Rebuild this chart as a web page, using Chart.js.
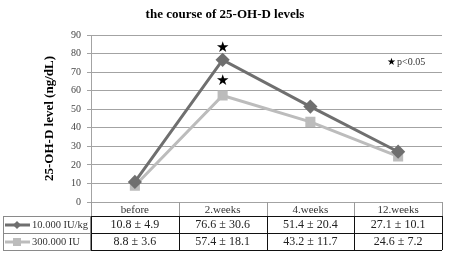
<!DOCTYPE html>
<html>
<head>
<meta charset="utf-8">
<script src="https://cdn.jsdelivr.net/npm/chart.js@4"></script>
<style>
  body { margin: 0; background: #fff; }
</style>
</head>
<body>
<canvas id="c" width="450" height="254"></canvas>
<script>
// data
const categories = ['before', '2.weeks', '4.weeks', '12.weeks'];
const seriesNames = ['10.000 IU/kg', '300.000 IU'];
const meanHigh = [10.8, 76.6, 51.4, 27.1];
const sdHigh = [4.9, 30.6, 20.4, 10.1];
const meanLow = [8.8, 57.4, 43.2, 24.6];
const sdLow = [3.6, 18.1, 11.7, 7.2];
const yTicks = [0, 10, 20, 30, 40, 50, 60, 70, 80, 90];
// significance stars at 2.weeks (value positions)
const starPoints = [{ idx: 1, y: 83 }, { idx: 1, y: 65 }];

const darkCol = '#6f6f6f';
const lightCol = '#bcbcbc';
const serif = '"Liberation Serif", "DejaVu Serif", serif';

const extras = {
  id: 'extras',
  afterDraw(chart) {
    const ctx = chart.ctx;
    const area = chart.chartArea;
    const x = chart.scales.x;
    const y = chart.scales.y;
    const cellW = (area.right - area.left) / categories.length;
    ctx.save();

    // title
    ctx.fillStyle = '#000';
    ctx.font = 'bold 13px ' + serif;
    ctx.textAlign = 'center';
    ctx.textBaseline = 'middle';
    ctx.fillText('the course of 25-OH-D levels', 225, 15);

    // stars
    ctx.font = '15px "DejaVu Sans", sans-serif';
    starPoints.forEach(p => {
      ctx.fillText('★', x.getPixelForValue(p.idx), y.getPixelForValue(p.y));
    });
    // p note
    ctx.textAlign = 'left';
    ctx.font = '10px "DejaVu Sans", sans-serif';
    ctx.fillText('★', 387, 62);
    ctx.font = '10px ' + serif;
    ctx.fillStyle = '#333';
    ctx.fillText('p<0.05', 397, 62);

    // table
    const top = area.bottom;
    const hdrB = top + 14;
    const r1B = hdrB + 17;
    const r2B = r1B + 17;
    ctx.lineWidth = 1;

    // header row
    ctx.strokeStyle = '#9a9a9a';
    for (let i = 0; i <= categories.length; i++) {
      const xx = Math.round(area.left + i * cellW) + 0.5;
      ctx.beginPath(); ctx.moveTo(xx, top); ctx.lineTo(xx, hdrB); ctx.stroke();
    }
    ctx.fillStyle = '#333';
    ctx.font = '11px ' + serif;
    ctx.textAlign = 'center';
    categories.forEach((c, i) => ctx.fillText(c, x.getPixelForValue(i), top + 8));

    // data rows
    ctx.strokeStyle = '#111';
    [hdrB, r1B, r2B].forEach(yy => {
      ctx.beginPath(); ctx.moveTo(area.left, Math.round(yy) + 0.5); ctx.lineTo(area.right, Math.round(yy) + 0.5); ctx.stroke();
    });
    for (let i = 0; i <= categories.length; i++) {
      const xx = Math.round(area.left + i * cellW) + 0.5;
      ctx.beginPath(); ctx.moveTo(xx, hdrB); ctx.lineTo(xx, r2B); ctx.stroke();
    }
    ctx.font = '12px ' + serif;
    ctx.fillStyle = '#222';
    const rows = [[meanHigh, sdHigh], [meanLow, sdLow]];
    rows.forEach((r, ri) => {
      const cy = (ri === 0 ? hdrB : r1B) + 9;
      r[0].forEach((m, i) => ctx.fillText(m + ' ± ' + r[1][i], x.getPixelForValue(i), cy));
    });

    // legend column
    ctx.strokeStyle = '#8a8a8a';
    ctx.strokeRect(3.5, Math.round(hdrB) + 0.5, area.left - 4, 17);
    ctx.strokeRect(3.5, Math.round(r1B) + 0.5, area.left - 4, 17);
    const cols = [darkCol, lightCol];
    cols.forEach((col, ri) => {
      const cy = (ri === 0 ? hdrB : r1B) + 9;
      ctx.strokeStyle = col;
      ctx.fillStyle = col;
      ctx.lineWidth = 3;
      ctx.beginPath(); ctx.moveTo(5, cy); ctx.lineTo(30, cy); ctx.stroke();
      if (ri === 0) {
        ctx.beginPath();
        ctx.moveTo(17, cy - 4); ctx.lineTo(21, cy); ctx.lineTo(17, cy + 4); ctx.lineTo(13, cy);
        ctx.closePath(); ctx.fill();
      } else {
        ctx.fillRect(13, cy - 4, 8, 8);
      }
      ctx.fillStyle = '#333';
      ctx.font = '10.5px ' + serif;
      ctx.textAlign = 'left';
      ctx.fillText(seriesNames[ri], 32, cy);
    });
    ctx.restore();
  }
};

new Chart(document.getElementById('c'), {
  type: 'line',
  data: {
    labels: categories,
    datasets: [
      {
        label: seriesNames[0], data: meanHigh,
        borderColor: darkCol, backgroundColor: darkCol, borderWidth: 3,
        pointStyle: 'rectRot', pointRadius: 5, tension: 0
      },
      {
        label: seriesNames[1], data: meanLow,
        borderColor: lightCol, backgroundColor: lightCol, borderWidth: 3,
        pointStyle: 'rect', pointRadius: 5, tension: 0
      }
    ]
  },
  options: {
    responsive: false,
    animation: false,
    layout: { padding: { top: 35, right: 5, bottom: 52, left: 0 } },
    plugins: { legend: { display: false }, title: { display: false }, tooltip: { enabled: false } },
    scales: {
      x: { display: false, offset: true },
      y: {
        min: 0, max: 90,
        afterBuildTicks: s => { s.ticks = yTicks.map(v => ({ value: v })); },
        afterFit: s => { s.width = 91; },
        grid: { color: '#a3a3a3', tickLength: 4 },
        border: { color: '#a3a3a3' },
        ticks: { font: { family: serif, size: 10 }, color: '#444', padding: 6 },
        title: { display: true, text: '25-OH-D level (ng/dL)', font: { family: serif, size: 13, weight: 'bold' }, color: '#000', padding: { top: 42, bottom: 4 } }
      }
    }
  },
  plugins: [extras]
});
</script>
</body>
</html>
